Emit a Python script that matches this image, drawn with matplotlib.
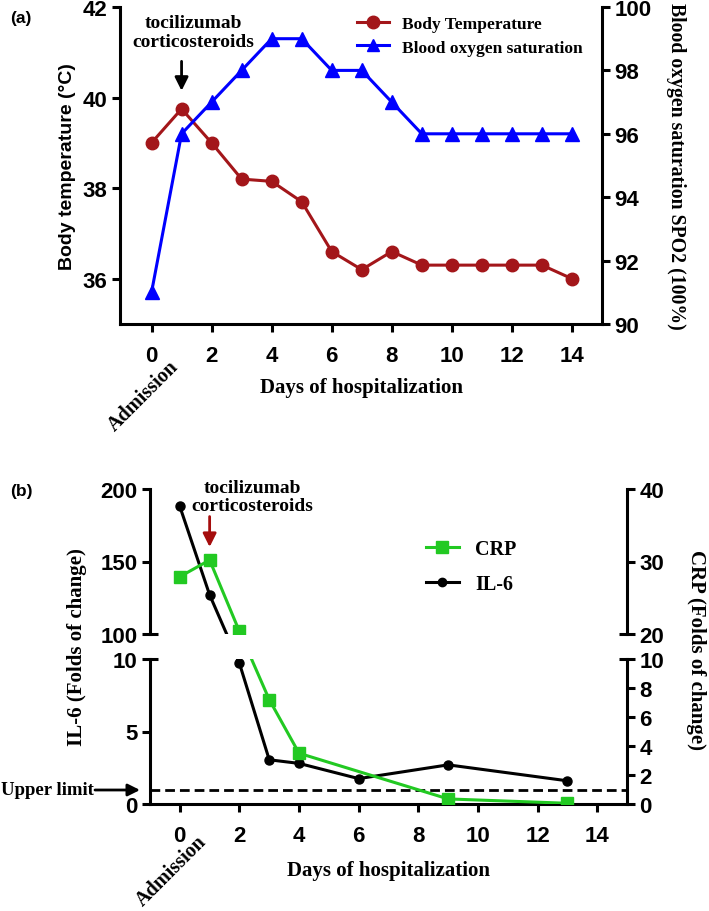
import matplotlib
matplotlib.use("Agg")
import matplotlib.pyplot as plt
import numpy as np
from matplotlib.lines import Line2D

# --- panel (a) data ---
DAYS_A = list(range(15))
BODY_TEMP = [39.0, 39.75, 39.0, 38.2, 38.15, 37.7, 36.6, 36.2, 36.6, 36.3, 36.3, 36.3, 36.3, 36.3, 36.0]
SPO2 = [91, 96, 97, 98, 99, 99, 98, 98, 97, 96, 96, 96, 96, 96, 96]

# --- panel (b) data ---
IL6_DAYS = [0, 1, 2, 3, 4, 6, 9, 13]
IL6 = [188, 127, 9.7, 3.05, 2.8, 1.75, 2.7, 1.6]
CRP_DAYS = [0, 1, 2, 3, 4, 9, 13]
CRP = [27.9, 30.2, 20.35, 7.2, 3.5, 0.35, 0.05]
UPPER_LIMIT = 1
XTICKS = list(range(0, 15, 2))

COLORS = {"temp": "#a3161a", "spo2": "#0000ff", "crp": "#22c922", "il6": "black", "arrow_b": "#a50d0d"}
SANS = "Liberation Sans"
SERIF = "Liberation Serif"

plt.rcParams.update({
    "font.family": SANS,
    "font.weight": "bold",
    "axes.labelweight": "bold",
    "axes.linewidth": 2.2,
    "xtick.major.width": 2.2,
    "ytick.major.width": 2.2,
    "xtick.major.size": 6,
    "ytick.major.size": 6,
    "xtick.major.pad": 9,
    "ytick.major.pad": 3,
    "xtick.labelsize": 16,
    "ytick.labelsize": 16,
})

W, H = 709, 912


def box(l, t, r, b):
    """pixel box (from top-left) -> figure fraction rect"""
    return [l / W, 1 - b / H, (r - l) / W, (b - t) / H]


def fp(x, y):
    return (x / W, 1 - y / H)


# broken-axis scales: 0-10 and 100-200 (IL-6) / 20-40 (CRP) each get 145 px, 25 px gap
def il6_fwd(v):
    v = np.asarray(v, float)
    return np.where(v <= 10, v * 14.5,
                    np.where(v < 100, 145 + (v - 10) * 25 / 90, 170 + (v - 100) * 1.45))


def il6_inv(t):
    t = np.asarray(t, float)
    return np.where(t <= 145, t / 14.5,
                    np.where(t < 170, 10 + (t - 145) * 90 / 25, 100 + (t - 170) / 1.45))


def crp_fwd(c):
    c = np.asarray(c, float)
    return np.where(c <= 10, c * 14.5,
                    np.where(c < 20, 145 + (c - 10) * 2.5, 170 + (c - 20) * 7.25))


def crp_inv(t):
    t = np.asarray(t, float)
    return np.where(t <= 145, t / 14.5,
                    np.where(t < 170, 10 + (t - 145) / 2.5, 20 + (t - 170) / 7.25))


def only_spines(ax, keep):
    for name, sp in ax.spines.items():
        sp.set_visible(name in keep)


def break_cap(ax, side, y):
    # small inward tick at the axis break, Prism style
    x0 = 0 if side == "left" else 1
    d = 8 / (ax.get_position().width * W)
    x1 = x0 + d if side == "left" else x0 - d
    ax.plot([x0, x1], [y, y], transform=ax.transAxes, color="black", lw=2.2,
            clip_on=False, solid_capstyle="butt")


fig = plt.figure(figsize=(W / 100, H / 100), dpi=100)

# ---------------- panel (a) ----------------
ax_a = fig.add_axes(box(120, 8, 602, 325))
ax_a2 = ax_a.twinx()

ax_a.plot(DAYS_A, BODY_TEMP, color=COLORS["temp"], marker="o", markersize=9, lw=2.2)
ax_a2.plot(DAYS_A, SPO2, color=COLORS["spo2"], marker="^", markersize=10, lw=2.2)

ax_a.set_xlim(-1.05, 15)
ax_a.set_ylim(35, 42)
ax_a.set_yticks([36, 38, 40, 42])
ax_a2.set_ylim(90, 100)
ax_a2.set_yticks(range(90, 101, 2))
ax_a.set_xticks(XTICKS)
only_spines(ax_a, ["left", "bottom"])
only_spines(ax_a2, ["right"])

ax_a.set_ylabel("Body temperature (°C)", fontsize=14, labelpad=5)
ax_a2.set_ylabel("Blood oxygen saturation SPO2 (100%)", family=SERIF, fontsize=14.2,
                 rotation=270, labelpad=25)
ax_a.set_xlabel("Days of hospitalization", family=SERIF, fontsize=15, labelpad=8)

ax_a.text(1.4, 41.45, "tocilizumab\ncorticosteroids", family=SERIF, fontsize=14,
          ha="center", va="center", linespacing=1.1)
ax_a.annotate("", xy=(1, 40.15), xytext=(1, 40.8),
              arrowprops=dict(arrowstyle="-|>", color="black", lw=2, mutation_scale=20,
                              shrinkA=0, shrinkB=0))

handles = [Line2D([], [], color=COLORS["temp"], marker="o", markersize=9, lw=2.2),
           Line2D([], [], color=COLORS["spo2"], marker="^", markersize=9, lw=2.2)]
ax_a.legend(handles, ["Body Temperature", "Blood oxygen saturation"], loc="upper left",
            bbox_to_anchor=(0.46, 1.02), frameon=False, prop={"family": SERIF, "size": 12.5, "weight": "bold"},
            handlelength=1.8, labelspacing=0.4)

fig.text(*fp(10, 18), "(a)", fontsize=12.5, ha="left", va="center")
fig.text(*fp(143, 396), "Admission", family=SERIF, fontsize=14.5, rotation=45,
         ha="center", va="center", rotation_mode="anchor")

# ---------------- panel (b) ----------------
ax_up = fig.add_axes(box(150, 490, 627, 635))
ax_lo = fig.add_axes(box(150, 660, 627, 805))
ax_up2 = ax_up.twinx()
ax_lo2 = ax_lo.twinx()

for ax in (ax_up, ax_lo):
    ax.set_yscale("function", functions=(il6_fwd, il6_inv))
    ax.plot(IL6_DAYS, IL6, color=COLORS["il6"], marker="o", markersize=6.5, lw=2.2)
    ax.set_xlim(-1, 15)
for ax in (ax_up2, ax_lo2):
    ax.set_yscale("function", functions=(crp_fwd, crp_inv))
    ax.plot(CRP_DAYS, CRP, color=COLORS["crp"], marker="s", markersize=8.5, lw=2.2)

ax_up.set_ylim(100, 200)
ax_up.set_yticks([100, 150, 200])
ax_up2.set_ylim(20, 40)
ax_up2.set_yticks([20, 30, 40])
ax_lo.set_ylim(0, 10)
ax_lo.set_yticks([0, 5, 10])
ax_lo2.set_ylim(0, 10)
ax_lo2.set_yticks(range(0, 11, 2))
ax_lo.set_xticks(XTICKS)
ax_up.set_xticks([])

only_spines(ax_up, ["left"])
only_spines(ax_up2, ["right"])
only_spines(ax_lo, ["left", "bottom"])
only_spines(ax_lo2, ["right"])

break_cap(ax_up, "left", 0)
break_cap(ax_lo, "left", 1)
break_cap(ax_up2, "right", 0)
break_cap(ax_lo2, "right", 1)

ax_lo.axhline(UPPER_LIMIT, color="black", lw=2, ls=(0, (3.5, 1.8)))
ax_lo.set_xlabel("Days of hospitalization", family=SERIF, fontsize=15, labelpad=10)

fig.text(*fp(77, 647), "IL-6 (Folds of change)", family=SERIF, fontsize=15,
         rotation=90, ha="center", va="center")
fig.text(*fp(696, 650), "CRP (Folds of change)", family=SERIF, fontsize=15,
         rotation=270, ha="center", va="center")

ax_up.text(2.43, 195, "tocilizumab\ncorticosteroids", family=SERIF, fontsize=14,
           ha="center", va="center", linespacing=1.1)
ax_up.annotate("", xy=(1, 160), xytext=(1, 181),
               arrowprops=dict(arrowstyle="-|>", color=COLORS["arrow_b"], lw=2, mutation_scale=20,
                               shrinkA=0, shrinkB=0))

handles_b = [Line2D([], [], color=COLORS["crp"], marker="s", markersize=8, lw=2.2),
             Line2D([], [], color=COLORS["il6"], marker="o", markersize=6, lw=2.2)]
ax_up.legend(handles_b, ["CRP", "IL-6"], loc="upper left", bbox_to_anchor=(0.54, 0.78),
             frameon=False, prop={"family": SERIF, "size": 14.5, "weight": "bold"},
             handlelength=1.65, labelspacing=0.75)

fig.text(*fp(10, 492), "(b)", fontsize=12.5, ha="left", va="center")
fig.text(*fp(171, 871), "Admission", family=SERIF, fontsize=14.5, rotation=45,
         ha="center", va="center", rotation_mode="anchor")
fig.text(*fp(1, 791), "Upper limit", family=SERIF, fontsize=13.5, ha="left", va="center")
ax_lo.annotate("", xy=fp(140, 791), xytext=fp(95, 791), xycoords="figure fraction",
               textcoords="figure fraction", annotation_clip=False,
               arrowprops=dict(arrowstyle="-|>", color="black", lw=2, mutation_scale=18,
                               shrinkA=0, shrinkB=0))

fig.savefig("out.png", dpi=100)
